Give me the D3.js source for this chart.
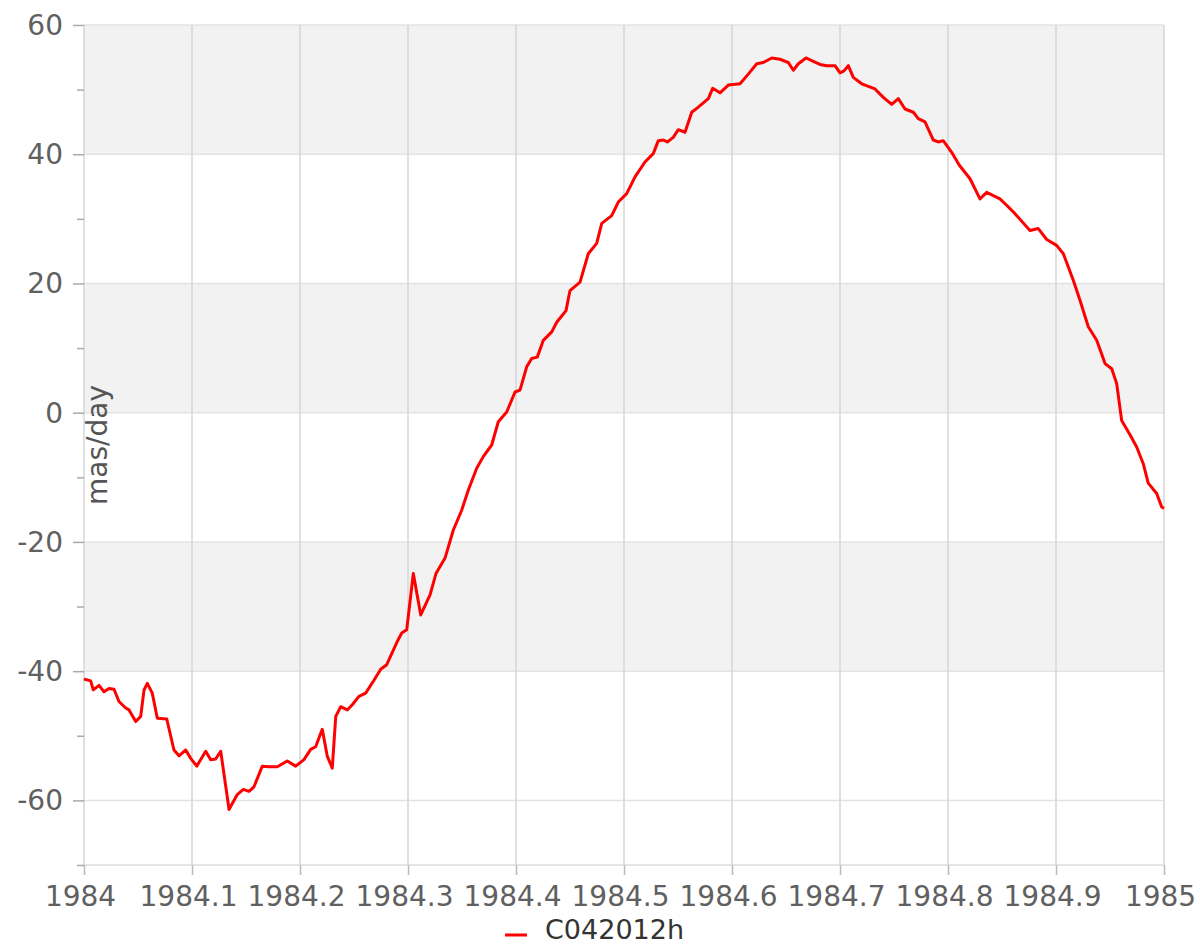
<!DOCTYPE html>
<html>
<head>
<meta charset="utf-8">
<script src="https://cdnjs.cloudflare.com/ajax/libs/d3/7.8.5/d3.min.js"></script>
<style>
  body { margin: 0; background: #fff; }
  svg { display: block; font-family: "DejaVu Sans", Verdana, sans-serif; }
</style>
</head>
<body>
<div id="chart"></div>
<script>
// series C042012h, epoch (fractional year) and value in mas/day
var years = [
  1984.0000, 1984.0016, 1984.0062, 1984.0086, 1984.0139, 1984.0185, 1984.0231, 1984.0278,
  1984.0324, 1984.0386, 1984.0417, 1984.0479, 1984.0525, 1984.0556, 1984.0586, 1984.0632,
  1984.0679, 1984.0766, 1984.0833, 1984.0880, 1984.0942, 1984.0988, 1984.1044, 1984.1127,
  1984.1173, 1984.1219, 1984.1266, 1984.1343, 1984.1419, 1984.1475, 1984.1528, 1984.1574,
  1984.1651, 1984.1713, 1984.1790, 1984.1882, 1984.1960, 1984.2037, 1984.2099, 1984.2145,
  1984.2206, 1984.2253, 1984.2299, 1984.2331, 1984.2377, 1984.2438, 1984.2484, 1984.2546,
  1984.2608, 1984.2685, 1984.2747, 1984.2803, 1984.2901, 1984.2942, 1984.2988, 1984.3049,
  1984.3118, 1984.3204, 1984.3259, 1984.3343, 1984.3419, 1984.3497, 1984.3558, 1984.3636,
  1984.3697, 1984.3775, 1984.3836, 1984.3914, 1984.3991, 1984.4037, 1984.4099, 1984.4145,
  1984.4197, 1984.4253, 1984.4331, 1984.4377, 1984.4463, 1984.4500, 1984.4593, 1984.4669,
  1984.4747, 1984.4794, 1984.4886, 1984.4947, 1984.5025, 1984.5102, 1984.5194, 1984.5271,
  1984.5318, 1984.5364, 1984.5401, 1984.5456, 1984.5503, 1984.5565, 1984.5627, 1984.5688,
  1984.5781, 1984.5821, 1984.5889, 1984.5966, 1984.6074, 1984.6151, 1984.6229, 1984.6290,
  1984.6368, 1984.6444, 1984.6521, 1984.6568, 1984.6614, 1984.6685, 1984.6738, 1984.6815,
  1984.6877, 1984.6954, 1984.7000, 1984.7037, 1984.7077, 1984.7123, 1984.7201, 1984.7324,
  1984.7401, 1984.7479, 1984.7540, 1984.7602, 1984.7679, 1984.7725, 1984.7787, 1984.7864,
  1984.7910, 1984.7956, 1984.8034, 1984.8105, 1984.8204, 1984.8296, 1984.8358, 1984.8481,
  1984.8543, 1984.8620, 1984.8759, 1984.8836, 1984.8914, 1984.9006, 1984.9068, 1984.9160,
  1984.9222, 1984.9299, 1984.9377, 1984.9454, 1984.9516, 1984.9562, 1984.9608, 1984.9688,
  1984.9747, 1984.9808, 1984.9854, 1984.9932, 1984.9979, 1985.0000
];
var values = [
  -41.2, -41.3, -41.5, -42.9, -42.2, -43.2, -42.7, -42.8,
  -44.7, -45.7, -46.0, -47.8, -47.0, -42.9, -41.9, -43.4,
  -47.3, -47.4, -52.2, -53.1, -52.2, -53.5, -54.7, -52.4,
  -53.7, -53.6, -52.4, -61.4, -59.1, -58.3, -58.6, -57.9,
  -54.7, -54.8, -54.8, -53.9, -54.7, -53.7, -52.1, -51.7,
  -49.0, -53.2, -55.0, -47.0, -45.5, -46.0, -45.2, -43.9,
  -43.4, -41.4, -39.7, -39.0, -35.4, -34.1, -33.6, -24.9,
  -31.3, -28.2, -24.9, -22.5, -18.2, -15.1, -12.0, -8.6,
  -6.8, -5.0, -1.4, 0.1, 3.2, 3.5, 7.1, 8.4,
  8.6, 11.2, 12.5, 14.0, 15.8, 18.9, 20.2, 24.6,
  26.2, 29.3, 30.5, 32.6, 33.9, 36.5, 38.8, 40.1,
  42.1, 42.2, 41.9, 42.6, 43.8, 43.4, 46.5, 47.3,
  48.6, 50.2, 49.5, 50.7, 50.9, 52.4, 54.0, 54.2,
  54.9, 54.7, 54.2, 53.0, 54.0, 54.9, 54.5, 53.9,
  53.7, 53.7, 52.6, 52.9, 53.7, 51.9, 50.9, 50.1,
  48.8, 47.7, 48.6, 47.0, 46.5, 45.5, 45.0, 42.2,
  41.9, 42.1, 40.3, 38.3, 36.2, 33.1, 34.1, 33.1,
  32.1, 30.8, 28.2, 28.5, 26.8, 25.9, 24.6, 20.5,
  17.4, 13.3, 11.2, 7.6, 6.8, 4.5, -1.2, -3.5,
  -5.3, -7.9, -10.9, -12.5, -14.6, -14.8
];
var xTicks = [1984, 1984.1, 1984.2, 1984.3, 1984.4, 1984.5, 1984.6, 1984.7, 1984.8, 1984.9, 1985];
var yTicks = [-60, -40, -20, 0, 20, 40, 60];
var yMinorTicks = [-70, -50, -30, -10, 10, 30, 50];
var bands = [[40, 60], [0, 20], [-40, -20]];
var seriesName = "C042012h";
var yLabel = "mas/day";

var svgWidth = 1200;
var svgHeight = 945;
var margin = { top: 25, right: 36, bottom: 80, left: 84 };
var width = svgWidth - margin.left - margin.right;
var height = svgHeight - margin.top - margin.bottom;

var svg = d3.select("#chart")
  .append("svg")
  .attr("width", svgWidth)
  .attr("height", svgHeight);

var g = svg.append("g")
  .attr("transform", `translate(${margin.left}, ${margin.top})`);

var xScale = d3.scaleLinear().domain([1984, 1985]).range([0, width]);
var yScale = d3.scaleLinear().domain([-70, 60]).range([height, 0]);

// alternating bands
g.selectAll(".band")
  .data(bands)
  .enter()
  .append("rect")
  .attr("class", "band")
  .attr("x", 0)
  .attr("width", width)
  .attr("y", d => yScale(d[1]))
  .attr("height", d => yScale(d[0]) - yScale(d[1]))
  .attr("fill", "#f2f2f2");

// horizontal grid
g.selectAll(".hgrid")
  .data(yTicks)
  .enter()
  .append("line")
  .attr("x1", 0)
  .attr("x2", width)
  .attr("y1", d => yScale(d))
  .attr("y2", d => yScale(d))
  .attr("stroke", "#e3e3e3")
  .attr("stroke-width", 1.5);

// vertical grid
g.selectAll(".vgrid")
  .data(xTicks)
  .enter()
  .append("line")
  .attr("x1", d => xScale(d))
  .attr("x2", d => xScale(d))
  .attr("y1", 0)
  .attr("y2", height)
  .attr("stroke", "#d6d6d6")
  .attr("stroke-width", 1.5);

// bottom line
g.append("line")
  .attr("x1", 0).attr("x2", width)
  .attr("y1", height).attr("y2", height)
  .attr("stroke", "#dcdcdc")
  .attr("stroke-width", 1.5);

// x axis
var xAxis = g.append("g")
  .attr("transform", `translate(0, ${height})`)
  .call(d3.axisBottom(xScale)
    .tickValues(xTicks)
    .tickFormat(d => String(+d.toFixed(1)))
    .tickSize(10)
    .tickPadding(11));
xAxis.select(".domain").remove();
xAxis.selectAll("line").attr("stroke", "#bbb").attr("stroke-width", 1.5);
xAxis.selectAll("text")
  .attr("fill", "#606060")
  .attr("dx", -4)
  .style("font-size", "28px")
  .style("font-family", "\"DejaVu Sans\", Verdana, sans-serif");

// y axis, plain hyphen for negatives
var yAxis = g.append("g")
  .call(d3.axisLeft(yScale)
    .tickValues(yTicks)
    .tickFormat(d => String(d))
    .tickSize(11)
    .tickPadding(10));
yAxis.select(".domain").remove();
yAxis.selectAll("line").attr("stroke", "#aaa").attr("stroke-width", 1.5);
yAxis.selectAll("text")
  .attr("fill", "#606060")
  .attr("dy", "0.34em")
  .style("font-size", "28px")
  .style("font-family", "\"DejaVu Sans\", Verdana, sans-serif");

var yMinor = g.append("g")
  .call(d3.axisLeft(yScale).tickValues(yMinorTicks).tickSize(7).tickFormat(""));
yMinor.select(".domain").remove();
yMinor.selectAll("line").attr("stroke", "#aaa").attr("stroke-width", 1.5);

// y label inside plot
g.append("text")
  .attr("transform", `translate(23, ${height / 2}) rotate(-90)`)
  .attr("text-anchor", "middle")
  .attr("fill", "#555")
  .style("font-size", "28px")
  .text(yLabel);

// series line
var data = years.map((y, i) => ({ t: y, v: values[i] }));
var line = d3.line()
  .x(d => xScale(d.t))
  .y(d => yScale(d.v));

g.append("path")
  .datum(data)
  .attr("fill", "none")
  .attr("stroke", "#ff0000")
  .attr("stroke-width", 3)
  .attr("stroke-linejoin", "round")
  .attr("d", line);

// legend
var legend = svg.append("g").attr("transform", "translate(505, 935)");
legend.append("line")
  .attr("x1", 0).attr("x2", 22)
  .attr("y1", 0).attr("y2", 0)
  .attr("stroke", "#ff0000")
  .attr("stroke-width", 3);
legend.append("text")
  .attr("x", 40)
  .attr("y", 4)
  .attr("fill", "#333")
  .style("font-size", "27px")
  .text(seriesName);
</script>
</body>
</html>
